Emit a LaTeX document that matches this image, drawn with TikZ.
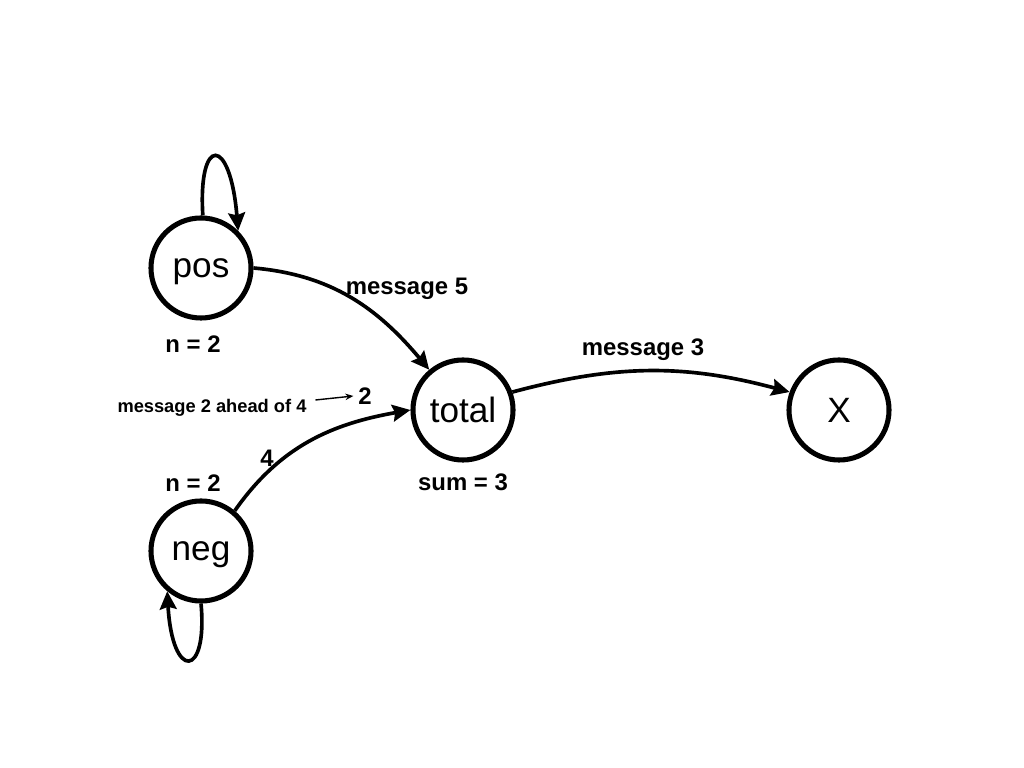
\documentclass[tikz,border=0pt]{standalone}
\usepackage{fontspec}
\setmainfont{Liberation Sans}
\usetikzlibrary{arrows.meta,positioning}

\tikzset{
  state/.style={draw,circle,line width=3.6pt,minimum size=2.5cm,inner sep=0pt,text depth=0pt,font=\fontsize{25}{30}\selectfont},
  edge/.style={-{Stealth[length=0.45cm,width=0.42cm,inset=0.06cm]},line width=2.6pt},
  tag/.style={font=\fontsize{17}{20}\bfseries\selectfont},
  note/.style={font=\fontsize{13}{16}\bfseries\selectfont}
}

\begin{document}
\begin{tikzpicture}[x=0.025cm,y=0.025cm]
  \useasboundingbox (0,0) rectangle (1024,768);
  % States
  \node[state] (pos) at (201,500) {pos};
  \node[state] (neg) at (201,217) {neg};
  \node[state] (total) at (463,358) {total};
  \node[state] (x) at (839,358) {X};
  % Self loops
  \draw[edge] (pos.88) .. controls +(-5,80) and +(-8,96) .. (pos.45);
  \draw[edge] (neg.-90) .. controls +(7,-75) and +(5,-90) .. (neg.230);
  % Messages
  \draw[edge] (pos.east) to[out=-5,in=130] (total.130);
  \draw[edge] (neg.50) to[out=55,in=190] (total.180);
  \draw[edge] (total.20) to[out=15,in=165] (x.160);
  % Labels
  \node[tag] (m5) at (407,479) {message 5};
  \node[tag] (m3) at (643,418) {message 3};
  \node[tag] (npos) at (193,424) {n = 2};
  \node[tag] (nneg) at (193,285) {n = 2};
  \node[tag] (sum) at (463,286) {sum = 3};
  \node[tag] (four) at (267,310) {4};
  \node[tag] (two) at (365,372) {2};
  \node[note] (ahead) at (212,360) {message 2 ahead of 4};
  \draw[-{Stealth[length=0.2cm,width=0.16cm]},line width=1pt] (ahead.east) ++(4,8) coordinate (a0) -- (two.west);
\end{tikzpicture}
\end{document}
